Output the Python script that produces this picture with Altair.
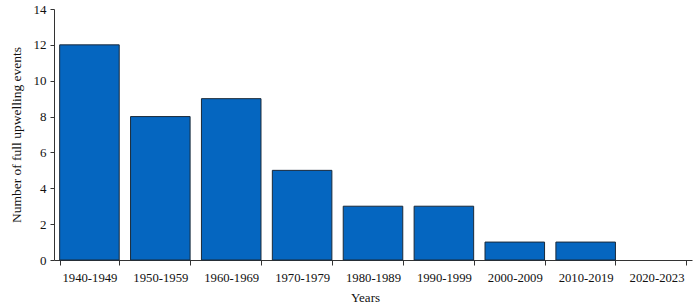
import altair as alt
import pandas as pd

decades = ["1940-1949", "1950-1959", "1960-1969", "1970-1979", "1980-1989",
           "1990-1999", "2000-2009", "2010-2019", "2020-2023"]
events = [12, 8, 9, 5, 3, 3, 1, 1, 0]

df = pd.DataFrame({"decade": decades, "events": events})

font = "Liberation Serif"

chart = alt.Chart(df).mark_bar(
    color="#0566C0", stroke="#1a2a3a", strokeWidth=1
).encode(
    x=alt.X("decade:N", sort=decades, title="Years",
            scale=alt.Scale(paddingInner=0.16, paddingOuter=0.08),
            axis=alt.Axis(labelAngle=0, tickBand="extent", tickSize=5,
                          labelFontSize=12.7, titleFontSize=13, labelPadding=6,
                          titlePadding=8, titleX=311, domainColor="#333", tickColor="#333",
                          labelColor="#111", titleColor="#111",
                          labelFont=font, titleFont=font, titleFontWeight="normal")),
    y=alt.Y("events:Q", title="Number of full upwelling events",
            scale=alt.Scale(domain=[0, 14], nice=False),
            axis=alt.Axis(values=list(range(0, 15, 2)), grid=False, tickSize=4,
                          labelFontSize=13, titleFontSize=13.5, labelPadding=4,
                          titlePadding=10, domainColor="#333", tickColor="#333",
                          labelColor="#111", titleColor="#111",
                          labelFont=font, titleFont=font, titleFontWeight="normal")),
    strokeOpacity=alt.condition(alt.datum.events > 0, alt.value(1), alt.value(0)),
).properties(
    width=638, height=251,
    autosize=alt.AutoSizeParams(type="none"),
    padding={"left": 54, "top": 9, "right": 3, "bottom": 48},
).configure_view(stroke=None)

chart.save("out.html", embed_options={"renderer": "svg", "actions": False})
